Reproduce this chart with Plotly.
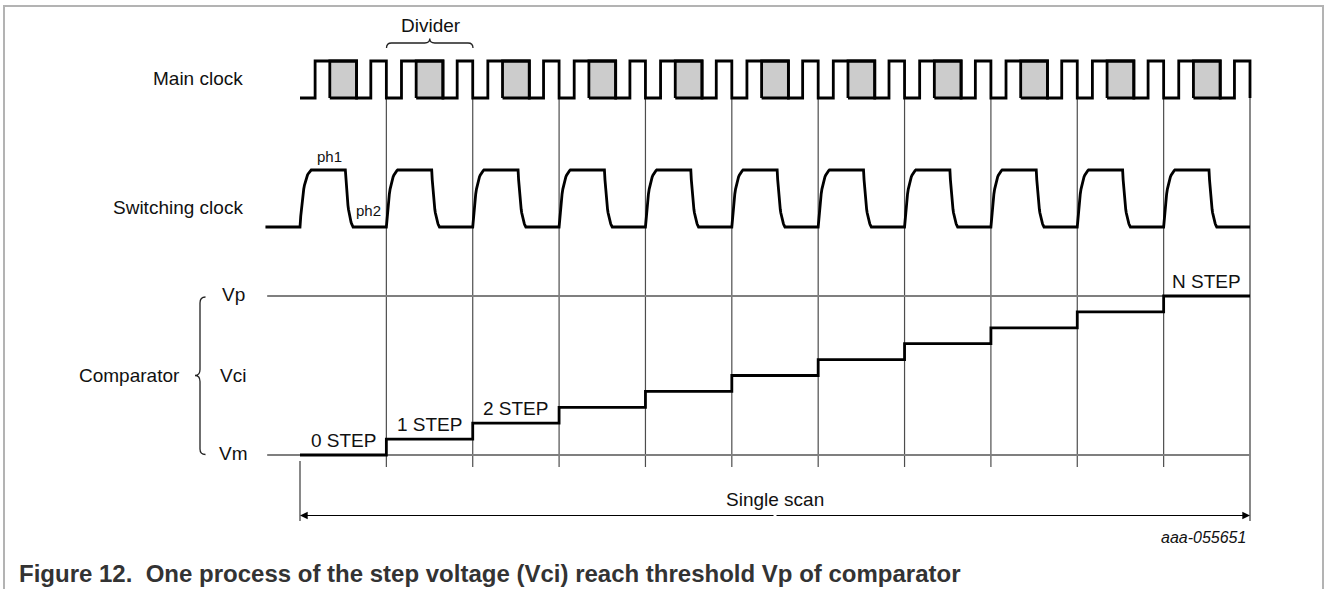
import numpy as np
import plotly.graph_objects as go

W, H = 1330, 589

# ---------------- data ----------------
n_periods = 11                      # divider periods in one single scan
period_index = list(range(n_periods))
# main clock edges inside one divider period (fraction of the period)
main_rise_1 = 0.175
shade_start = 0.345
shade_end = 0.655
main_rise_2 = 0.82
# switching clock timing inside one divider period
sw_start = -0.40
sw_rise_end = 0.13
sw_fall_start = 0.525
sw_fall_end = 0.615
# comparator step voltage (steps above Vm), Vp reached at last step
step_levels = [0, 1, 2, 3, 4, 5, 6, 7, 8, 9, 10]
step_labels = ["0 STEP", "1 STEP", "2 STEP", "", "", "", "", "", "", "", "N STEP"]
vm_level, vp_level = 0, 10
ref_line_start = -0.38
row_labels = ["Main clock", "Switching clock"]
level_labels = ["Vp", "Vci", "Vm"]

# ---------------- layout helpers (pixel geometry) ----------------
T0_PX, T1_PX = 300, 1250
MAIN_HI, MAIN_LO = 61, 98
SW_HI, SW_LO = 170, 227
VP_PX, VM_PX = 296, 455


def px_x(px):
    return px / W


def px_y(py):
    return 1 - py / H


def t_of_px(px):
    return (px - T0_PX) * n_periods / (T1_PX - T0_PX)


def y_range(px_a, px_b, v_a, v_b):
    slope = (px_b - px_a) / (v_b - v_a)
    return [v_a + (H - px_a) / slope, v_a + (0 - px_a) / slope]


INK = "#000000"
SIG_W = 2.8
FONT = "Liberation Sans, Arial, sans-serif"

fig = go.Figure()

# reference lines Vp / Vm
fig.add_trace(go.Scatter(
    x=[ref_line_start, n_periods, None, ref_line_start, n_periods],
    y=[vp_level, vp_level, None, vm_level, vm_level],
    mode="lines", line=dict(color="#7f7f7f", width=1.8),
    yaxis="y", hoverinfo="skip"))

# comparator step voltage
fig.add_trace(go.Scatter(
    x=period_index + [n_periods], y=step_levels + [step_levels[-1]],
    mode="lines", line=dict(color=INK, width=SIG_W, shape="hv"),
    yaxis="y", hoverinfo="skip"))

# main clock shaded pulses
bx, by = [], []
for k in period_index:
    bx += [k + shade_start, k + shade_end, k + shade_end, k + shade_start, k + shade_start, None]
    by += [0, 0, 1, 1, 0, None]
fig.add_trace(go.Scatter(
    x=bx, y=by, mode="lines", fill="toself", fillcolor="#cccccc",
    line=dict(color=INK, width=SIG_W), yaxis="y2", hoverinfo="skip"))

# main clock waveform
mx, my = [0], [0]
for k in period_index:
    mx += [k + main_rise_1, k + main_rise_1, k + shade_end, k + shade_end,
           k + main_rise_2, k + main_rise_2, k + 1, k + 1]
    my += [0, 1, 1, 0, 0, 1, 1, 0]
fig.add_trace(go.Scatter(
    x=mx, y=my, mode="lines", line=dict(color=INK, width=SIG_W),
    yaxis="y2", hoverinfo="skip"))

# switching clock waveform (RC shaped edges)
s = np.linspace(0, 1, 16)
rise = (1 - np.exp(-3.0 * s)) / (1 - np.exp(-3.0))
fall = 1 - (1 - np.exp(-2.5 * s)) / (1 - np.exp(-2.5))
sx, sy = [sw_start], [0]
for k in period_index:
    sx += list(k + sw_rise_end * s)
    sy += list(rise)
    sx += list(k + sw_fall_start + (sw_fall_end - sw_fall_start) * s)
    sy += list(fall)
    sx += [k + 1]
    sy += [0]
fig.add_trace(go.Scatter(
    x=sx, y=sy, mode="lines", line=dict(color=INK, width=SIG_W),
    yaxis="y3", hoverinfo="skip"))

shapes = []
# vertical divider lines
for k in period_index[1:]:
    shapes.append(dict(type="line", xref="x", yref="paper", x0=k, x1=k,
                       y0=px_y(MAIN_LO), y1=px_y(467),
                       line=dict(color="#4d4d4d", width=1.2), layer="below"))
# scan limits
shapes.append(dict(type="line", xref="x", yref="paper", x0=n_periods, x1=n_periods,
                   y0=px_y(MAIN_LO), y1=px_y(521),
                   line=dict(color="#6b6b6b", width=1.6), layer="below"))
shapes.append(dict(type="line", xref="x", yref="paper", x0=0, x1=0,
                   y0=px_y(461), y1=px_y(521),
                   line=dict(color="#6b6b6b", width=1.6), layer="below"))


def path_px(cmds):
    out = []
    for c in cmds:
        if isinstance(c, str):
            out.append(c)
        else:
            out.append(f"{px_x(c[0]):.6f},{px_y(c[1]):.6f}")
    return " ".join(out)


# divider brace (horizontal)
xa, xb = 386.5, 473
xm = (xa + xb) / 2
shapes.append(dict(type="path", xref="paper", yref="paper",
                   path=path_px(["M", (xa, 48), "Q", (xa, 43), (xa + 5, 43), "L", (xm - 5, 43),
                                 "Q", (xm, 43), (xm, 38.5), "Q", (xm, 43), (xm + 5, 43),
                                 "L", (xb - 5, 43), "Q", (xb, 43), (xb, 48)]),
                   line=dict(color="#222222", width=1.3)))
# comparator brace (vertical)
bxp = 200
ym = 375.5
shapes.append(dict(type="path", xref="paper", yref="paper",
                   path=path_px(["M", (bxp + 5.5, 297), "Q", (bxp, 297), (bxp, 303), "L", (bxp, ym - 6),
                                 "Q", (bxp, ym), (bxp - 5, ym), "Q", (bxp, ym), (bxp, ym + 6),
                                 "L", (bxp, 449), "Q", (bxp, 454.5), (bxp + 5.5, 454.5)]),
                   line=dict(color="#222222", width=1.3)))
# outer frame
shapes.append(dict(type="rect", xref="paper", yref="paper",
                   x0=px_x(4), x1=px_x(1323), y0=px_y(6), y1=px_y(620),
                   line=dict(color="#b3b3b3", width=2), layer="below"))

ann = []
LAB = 19


def txt(text, x, y, size=LAB, xanchor="center", xref="paper", yref="paper", **kw):
    d = dict(text=text, x=x, y=y, xref=xref, yref=yref, showarrow=False,
             xanchor=xanchor, yanchor="middle",
             font=dict(family=FONT, size=size, color="#111111"))
    d.update(kw)
    ann.append(d)


txt(row_labels[0], px_x(245), px_y(78), xanchor="right")
txt(row_labels[1], px_x(245), px_y(207), xanchor="right")
txt("Divider", px_x(431), px_y(26))
txt("ph1", px_x(329), px_y(156), size=15)
txt("ph2", px_x(368), px_y(211), size=15)
txt(level_labels[0], px_x(233), px_y(294))
txt(level_labels[1], px_x(233), px_y(375))
txt(level_labels[2], px_x(233), px_y(453))
txt("Comparator", px_x(129), px_y(375))
for k, lab in zip(period_index, step_labels):
    if lab:
        txt(lab, k + 0.5, step_levels[k], xref="x", yref="y", yshift=15)
txt("Single scan", n_periods / 2, px_y(499), xref="x")
txt("<i>aaa-055651</i>", px_x(1248), px_y(537), size=16, xanchor="right")
ann.append(dict(text="<b>Figure 12.  One process of the step voltage (Vci) reach threshold Vp of comparator</b>",
                x=px_x(17), y=px_y(573), xref="paper", yref="paper", showarrow=False,
                xanchor="left", yanchor="middle",
                font=dict(family=FONT, size=24, color="#333333")))
# single-scan double arrow
for end in (0, n_periods):
    ann.append(dict(text="", x=end, y=px_y(515.5), ax=n_periods / 2, ay=0,
                    xref="x", yref="paper", axref="x", ayref="pixel",
                    showarrow=True, arrowhead=2, arrowsize=1.4, arrowwidth=1.1,
                    arrowcolor="#000000", standoff=0))

fig.update_layout(
    width=W, height=H, autosize=False,
    margin=dict(l=0, r=0, t=0, b=0, pad=0),
    paper_bgcolor="white", plot_bgcolor="white",
    showlegend=False,
    shapes=shapes, annotations=ann,
    xaxis=dict(range=[t_of_px(0), t_of_px(W)], visible=False, fixedrange=True),
    yaxis=dict(range=y_range(VM_PX, VP_PX, vm_level, vp_level), visible=False,
               fixedrange=True, domain=[0, 1]),
    yaxis2=dict(range=y_range(MAIN_LO, MAIN_HI, 0, 1), visible=False,
                fixedrange=True, overlaying="y"),
    yaxis3=dict(range=y_range(SW_LO, SW_HI, 0, 1), visible=False,
                fixedrange=True, overlaying="y"),
)

fig.write_html("out.html", config={"displayModeBar": False},
               post_script="document.body.style.margin='0';")
